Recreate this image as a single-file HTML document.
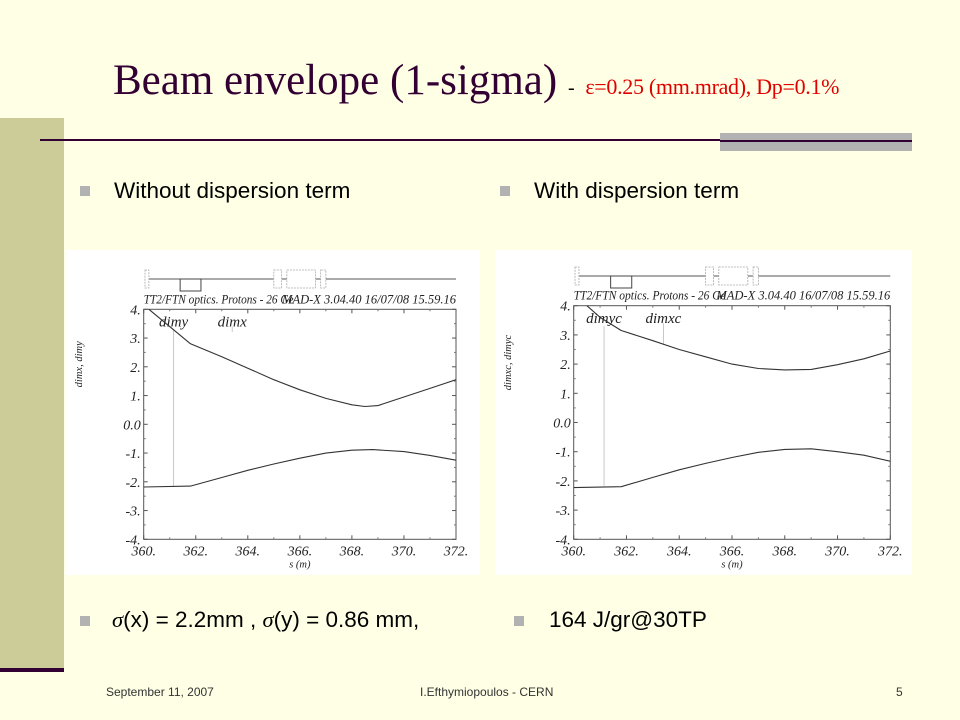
<!DOCTYPE html>
<html><head><meta charset="utf-8"><style>
body{margin:0;width:960px;height:720px;overflow:hidden;background:#FFFFE5;position:relative;font-family:"Liberation Sans",sans-serif}
.a{position:absolute}
.bul{position:absolute;width:10px;height:10px;background:#B2B2B2}
.t{position:absolute;font-size:22.5px;color:#000;white-space:nowrap}
svg text{font-family:"Liberation Serif",serif;font-style:italic}
</style></head><body>
<div class="a" style="left:0;top:118px;width:64px;height:550px;background:#CCCC99"></div>
<div class="a" style="left:0;top:668px;width:64px;height:4px;background:#330033"></div>
<div class="a" style="left:113px;top:56px;white-space:nowrap;font-family:'Liberation Serif',serif;color:#330033;font-size:43px">Beam envelope (1-sigma) <span style="font-size:20px;color:#000">-</span> <span style="font-size:22px;color:#E00000;letter-spacing:-0.3px">ε=0.25 (mm.mrad), Dp=0.1%</span></div>
<div class="a" style="left:40px;top:139px;width:872px;height:2px;background:#330033"></div>
<div class="a" style="left:720px;top:133px;width:192px;height:18px;background:#B2B2B2"></div>
<div class="a" style="left:720px;top:140px;width:192px;height:2px;background:#330033"></div>

<div class="bul" style="left:80px;top:186px"></div>
<div class="t" style="left:114px;top:178px">Without dispersion term</div>
<div class="bul" style="left:500px;top:186px"></div>
<div class="t" style="left:534px;top:178px">With dispersion term</div>

<div class="a" style="left:66px;top:250px;width:414px;height:325px;background:#fff"><svg id="c1" width="414" height="325"></svg></div>
<div class="a" style="left:495px;top:250px;width:417px;height:325px;background:#fff"><svg id="c2" width="417" height="325"></svg></div>

<div class="bul" style="left:80px;top:616px"></div>
<div class="t" style="left:112px;top:607px"><i style="font-family:'Liberation Serif',serif">σ</i>(x) = 2.2mm , <i style="font-family:'Liberation Serif',serif">σ</i>(y) = 0.86 mm,</div>
<div class="bul" style="left:514px;top:616px"></div>
<div class="t" style="left:549px;top:607px">164 J/gr@30TP</div>

<div class="a" style="left:106px;top:685px;font-size:12px;color:#333">September 11, 2007</div>
<div class="a" style="left:420px;top:685px;font-size:12px;color:#333">I.Efthymiopoulos - CERN</div>
<div class="a" style="left:896px;top:685px;font-size:12px;color:#333">5</div>

<script>
const xTicks=[360,362,364,366,368,370,372];
const xTickLabels=["360.","362.","364.","366.","368.","370.","372."];
const yTicks=[4,3,2,1,0,-1,-2,-3,-4];
const yTickLabels=["4.","3.","2.","1.","0.0","-1.","-2.","-3.","-4."];
const leftUpperS=[360.2,361.8,363,364,365,366,367,368,368.5,369,370,371,372];
const leftUpperV=[4.0,2.8,2.35,1.95,1.55,1.2,0.9,0.68,0.62,0.65,0.95,1.25,1.55];
const leftLowerS=[360,361.8,363,364,365,366,367,368,368.8,370,371,372];
const leftLowerV=[-2.18,-2.15,-1.85,-1.6,-1.38,-1.18,-1.0,-0.9,-0.88,-0.95,-1.08,-1.25];
const rightUpperS=[360.5,361,361.8,363,364,365,366,367,368,369,370,371,372];
const rightUpperV=[4.0,3.6,3.15,2.8,2.5,2.25,2.0,1.85,1.8,1.82,1.98,2.18,2.45];
const rightLowerS=[360,361.8,363,364,365,366,367,368,369,370,371,372];
const rightLowerV=[-2.23,-2.2,-1.88,-1.62,-1.4,-1.2,-1.02,-0.92,-0.9,-1.0,-1.12,-1.33];
const NS="http://www.w3.org/2000/svg";
function mk(svg,tag,at,txt){const e=document.createElementNS(NS,tag);for(const k in at)e.setAttribute(k,at[k]);if(txt!==undefined)e.textContent=txt;svg.appendChild(e);return e;}
function chart(id,g,ylab,lab1,lab2,series){
 const svg=document.getElementById(id);
 const X=s=>g.x0+(s-360)/12*(g.x1-g.x0);
 const Y=v=>g.yt+(4-v)/8*(g.yb-g.yt);
 const ly=g.ly;
 let e=mk(svg,'line',{x1:X(360.2),x2:X(372),y1:ly,y2:ly,stroke:'#555','stroke-width':1});
 
 [[360.05,360.2],[365.0,365.3],[365.5,366.6],[366.8,367.0]].forEach(b=>{mk(svg,'rect',{x:X(b[0]),y:ly-9,width:X(b[1])-X(b[0]),height:18,fill:'#fff',stroke:'#aaa','stroke-dasharray':'2,1','stroke-width':0.8});});
 mk(svg,'rect',{x:X(361.4),y:ly,width:X(362.2)-X(361.4),height:12,fill:'none',stroke:'#444','stroke-width':1});
 let t=mk(svg,'text',{x:X(360),y:g.yt-6,'font-size':12.5,fill:'#222',textLength:(g.x1-g.x0)*0.48,lengthAdjust:'spacingAndGlyphs'},'TT2/FTN optics. Protons - 26 Ge');
 
 mk(svg,'text',{x:X(372),y:g.yt-6,'font-size':12.5,fill:'#222','text-anchor':'end'},'MAD-X 3.04.40  16/07/08 15.59.16');
 e=mk(svg,'rect',{x:g.x0,y:g.yt,width:g.x1-g.x0,height:g.yb-g.yt,fill:'none',stroke:'#555','stroke-width':1});
 
 yTicks.forEach((v,i)=>{
  mk(svg,'line',{x1:g.x0,x2:g.x0+4,y1:Y(v),y2:Y(v),stroke:'#555'});
  mk(svg,'line',{x1:g.x1-4,x2:g.x1,y1:Y(v),y2:Y(v),stroke:'#555'});
  if(i<yTicks.length-1){const m=(v+yTicks[i+1])/2;mk(svg,'line',{x1:g.x0,x2:g.x0+2,y1:Y(m),y2:Y(m),stroke:'#777'});mk(svg,'line',{x1:g.x1-2,x2:g.x1,y1:Y(m),y2:Y(m),stroke:'#777'});}
  const tl=mk(svg,'text',{x:g.x0-3,y:Y(v)+5,'font-size':14,fill:'#222','text-anchor':'end'},yTickLabels[i]);
  
 });
 xTicks.forEach((s,i)=>{
  mk(svg,'line',{x1:X(s),x2:X(s),y1:g.yb,y2:g.yb-4,stroke:'#555'});
  mk(svg,'line',{x1:X(s),x2:X(s),y1:g.yt,y2:g.yt+4,stroke:'#555'});
  if(i<xTicks.length-1){const m=s+1;mk(svg,'line',{x1:X(m),x2:X(m),y1:g.yb,y2:g.yb-2,stroke:'#777'});mk(svg,'line',{x1:X(m),x2:X(m),y1:g.yt,y2:g.yt+2,stroke:'#777'});}
  const tl=mk(svg,'text',{x:X(s),y:g.yb+16,'font-size':14,fill:'#222','text-anchor':'middle'},xTickLabels[i]);
  
 });
 t=mk(svg,'text',{x:(g.x0+g.x1)/2,y:g.yb+28,'font-size':10.5,fill:'#222','text-anchor':'middle'},'s (m)');
 
 t=mk(svg,'text',{x:0,y:0,'font-size':10.5,fill:'#222','text-anchor':'middle',transform:`translate(16,${(g.yt+g.yb)/2-60}) rotate(-90)`},ylab);
 
 mk(svg,'line',{x1:X(361.15),x2:X(361.15),y1:Y(3.3),y2:Y(-2.17),stroke:'#bbb','stroke-width':0.8});
 mk(svg,'line',{x1:X(363.4),x2:X(363.4),y1:Y(3.4),y2:g.lx,stroke:'#bbb','stroke-width':0.8});
 t=mk(svg,'text',{x:X(361.15),y:Y(3.4),'font-size':15,fill:'#222','text-anchor':'middle'},lab1);
 
 t=mk(svg,'text',{x:X(363.4),y:Y(3.4),'font-size':15,fill:'#222','text-anchor':'middle'},lab2);
 
 series.forEach(sr=>{
  const pts=sr.s.map((s,i)=>X(s).toFixed(1)+','+Y(sr.v[i]).toFixed(1)).join(' ');
  const p=mk(svg,'polyline',{points:pts,fill:'none',stroke:'#333','stroke-width':1.1,'stroke-linejoin':'round'});
  
  
 });
}
chart('c1',{x0:77.7,x1:390,yt:59.3,yb:289.3,ly:29,lx:82},'dimx, dimy','dimy','dimx',
 [{s:leftUpperS,v:leftUpperV,name:'upper-envelope-line'},{s:leftLowerS,v:leftLowerV,name:'lower-envelope-line'}]);
chart('c2',{x0:78.7,x1:395.3,yt:55.7,yb:289.3,ly:26,lx:95},'dimxc, dimyc','dimyc','dimxc',
 [{s:rightUpperS,v:rightUpperV,name:'upper-envelope-line'},{s:rightLowerS,v:rightLowerV,name:'lower-envelope-line'}]);
</script>
</body></html>
